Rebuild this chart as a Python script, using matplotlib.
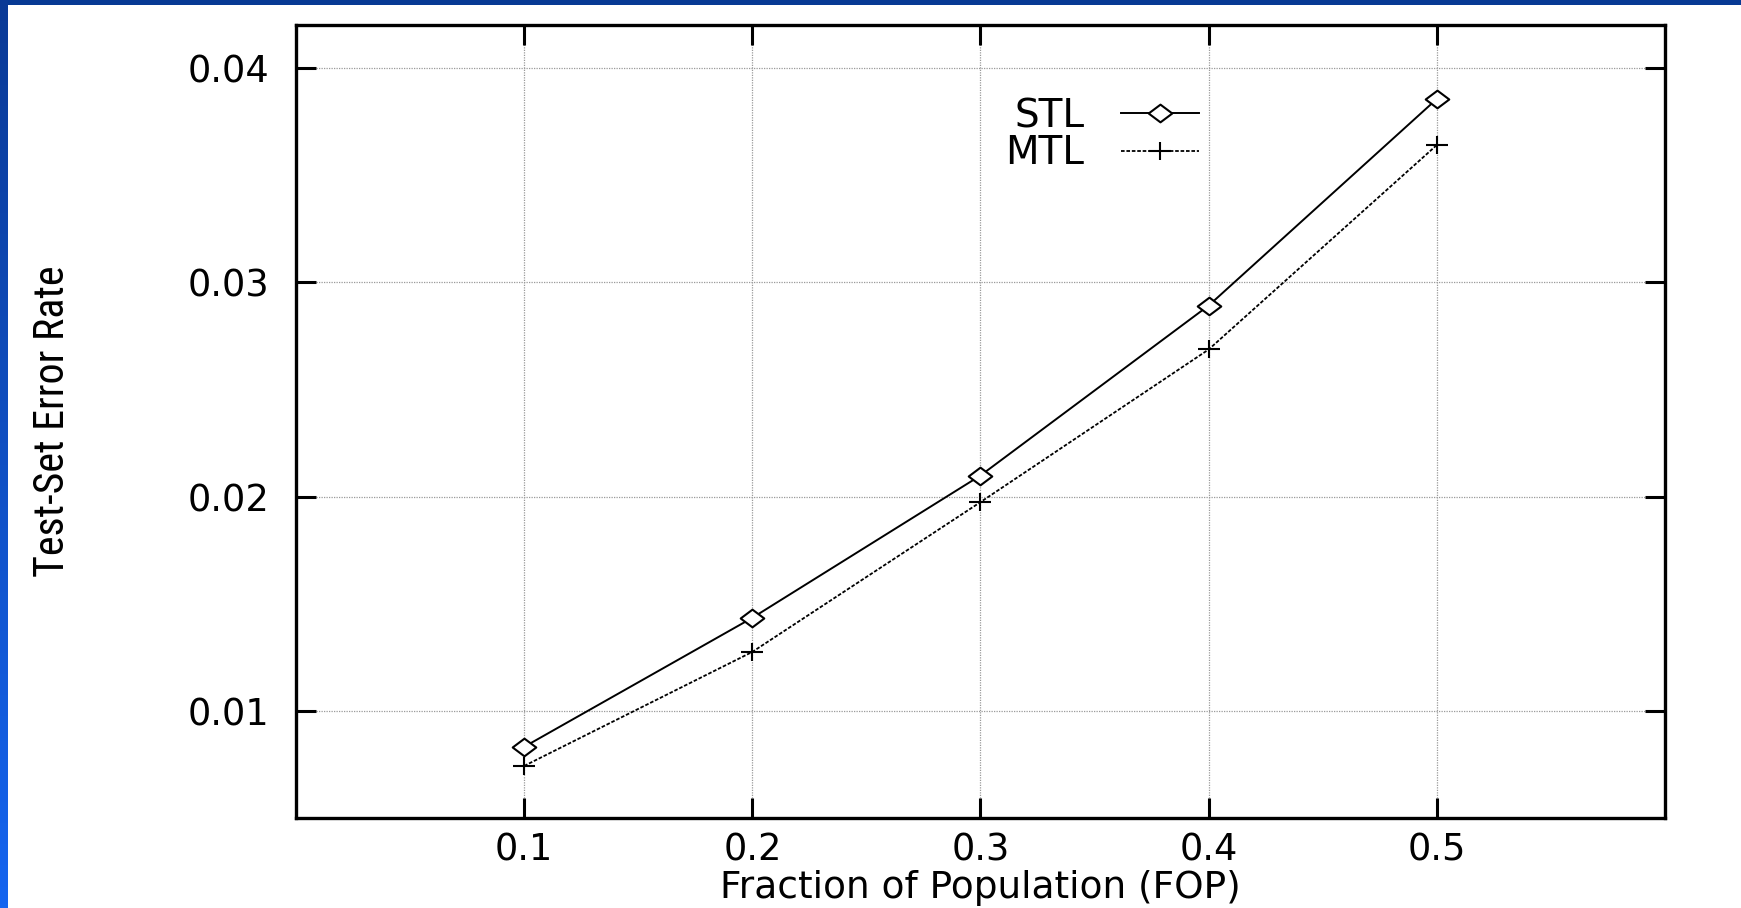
import numpy as np
import matplotlib
matplotlib.use("Agg")
import matplotlib.pyplot as plt
from matplotlib.path import Path
from matplotlib import font_manager
from matplotlib.colors import LinearSegmentedColormap

# ---- data ----
fop = [0.1, 0.2, 0.3, 0.4, 0.5]
stl = [0.00832, 0.01434, 0.02098, 0.02891, 0.03855]
mtl = [0.00743, 0.01275, 0.01974, 0.02686, 0.0364]
xticks = [0.1, 0.2, 0.3, 0.4, 0.5]
xtick_labels = ["0.1", "0.2", "0.3", "0.4", "0.5"]
yticks = [0.01, 0.02, 0.03, 0.04]
ytick_labels = ["0.01", "0.02", "0.03", "0.04"]
series_names = ["STL", "MTL"]
xlabel = "Fraction of Population (FOP)"
ylabel = "Test-Set Error Rate"

plt.rcParams['font.family'] = ['DejaVu Sans']

def first_font(names):
    for n in names:
        try:
            font_manager.findfont(font_manager.FontProperties(family=n),
                                  fallback_to_default=False)
            return n
        except Exception:
            continue
    return 'DejaVu Sans'

narrow = first_font(['Liberation Sans Narrow', 'DejaVu Sans Condensed',
                     'Roboto Condensed', 'Liberation Sans'])

W, H = 1741, 908
fig = plt.figure(figsize=(W / 100, H / 100), dpi=100)
fig.patch.set_facecolor('white')

# blue slide border: top band and left gradient band
top = fig.add_axes([0, 1 - 5 / H, 1, 5 / H])
top.set_facecolor('#073a94')
top.set_xticks([]); top.set_yticks([])
for s in top.spines.values():
    s.set_visible(False)
left = fig.add_axes([0, 0, 8 / W, 1])
grad = np.linspace(0, 1, 256).reshape(-1, 1)
cmap = LinearSegmentedColormap.from_list('bl', ['#0a3a96', '#1565f0'])
left.imshow(grad, aspect='auto', cmap=cmap, extent=[0, 1, 0, 1], origin='upper')
left.axis('off')

ax = fig.add_axes([296 / W, 1 - 818 / H, (1665 - 296) / W, (818 - 25) / H])

diamond = Path([(-1, 0), (0, 0.75), (1, 0), (0, -0.75), (-1, 0)],
               [Path.MOVETO, Path.LINETO, Path.LINETO, Path.LINETO, Path.CLOSEPOLY])
plus = Path([(-1, 0), (1, 0), (0, -0.8), (0, 0.8)],
            [Path.MOVETO, Path.LINETO, Path.MOVETO, Path.LINETO])

ax.plot(fop, stl, color='black', lw=1.4, marker=diamond, markersize=17,
        markerfacecolor='white', markeredgecolor='black', markeredgewidth=1.5,
        label=series_names[0], zorder=3)
ax.plot(fop, mtl, color='black', lw=1.3, linestyle=(0, (2, 1)), marker=plus,
        markersize=16, markeredgewidth=1.5, label=series_names[1], zorder=3)

ax.set_xlim(0.0, 0.6)
ax.set_ylim(0.005, 0.042)
ax.set_xticks(xticks)
ax.set_xticklabels(xtick_labels)
ax.set_yticks(yticks)
ax.set_yticklabels(ytick_labels)

ax.grid(True, color='#9a9a9a', lw=0.9, linestyle=(0, (1, 1)))
ax.set_axisbelow(True)
for s in ax.spines.values():
    s.set_linewidth(2.4)
ax.tick_params(axis='both', which='major', direction='in', length=14.5, width=2.2,
               top=True, right=True, labelsize=26.5, color='black')
ax.tick_params(axis='y', pad=19)
ax.tick_params(axis='x', pad=10)

ax.set_xlabel(xlabel, fontsize=27)
ax.xaxis.label.set_va('bottom')
ax.xaxis.set_label_coords(0.5, (818 - 906.5) / 793)

ylab = ax.set_ylabel(ylabel, fontsize=30, family=[narrow, 'DejaVu Sans'])
ax.yaxis.label.set_va('center')
ax.yaxis.set_label_coords((52 - 296) / 1369, 0.5)

# size the y label so its length matches the reference (about 312 px)
fig.canvas.draw()
ext = ylab.get_window_extent(renderer=fig.canvas.get_renderer())
ylab.set_fontsize(30 * 312 / ext.height)

leg = ax.legend(loc='upper right', bbox_to_anchor=((1199 - 296) / 1369, (818 - 97) / 793),
                markerfirst=False, frameon=False, fontsize=28, handlelength=2.0,
                handletextpad=0.95, labelspacing=-0.02, borderpad=0, borderaxespad=0)

fig.savefig('out.png', dpi=100, facecolor='white')
